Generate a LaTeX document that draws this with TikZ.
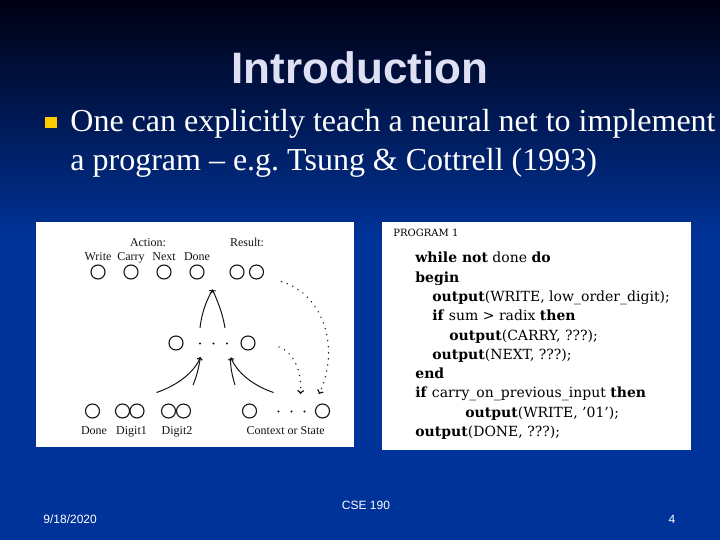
\documentclass[tikz,border=0pt]{standalone}
\usepackage{fontspec}
\setmainfont{Liberation Serif}
\setsansfont{Liberation Sans}
\newfontfamily\progfont{DejaVu Serif}
\usetikzlibrary{positioning}
\frenchspacing

\definecolor{slideblue}{RGB}{0,51,153}
\definecolor{slidetop}{RGB}{0,0,18}
\definecolor{titlecol}{RGB}{224,224,244}
\definecolor{bulletcol}{RGB}{255,204,0}
\definecolor{ink}{RGB}{20,20,20}

\begin{document}
\begin{tikzpicture}[x=1pt,y=-1pt,node distance=33pt,thick]
\tikzstyle{nd}=[circle,draw=ink,line width=1.1pt,inner sep=0pt,minimum size=14pt]
\tikzstyle{lbl}=[font=\fontsize{12}{13}\selectfont,text=ink,inner sep=1pt,text depth=0pt]
\tikzstyle{arr}=[->,line width=1pt,draw=ink]
\tikzstyle{dots}=[->,line width=1.5pt,draw=ink,dash pattern=on 0.1pt off 6pt,line cap=round]
\tikzstyle{code}=[anchor=base west,inner sep=0pt,text=black,font=\progfont\fontsize{14}{16}\selectfont]
\tikzstyle{foot}=[inner sep=0pt,text=white,font=\sffamily\fontsize{12}{14}\selectfont]
\useasboundingbox (0,0) rectangle (720,540);
% slide background
\fill[slideblue] (0,0) rectangle (720,540);
\shade[top color=slidetop,bottom color=slideblue] (0,0) rectangle (720,240);
\node[anchor=base,inner sep=0pt,text=titlecol,font=\sffamily\bfseries\fontsize{44}{48}\selectfont] (title) at (360,84) {Introduction};
\node[fill=bulletcol,inner sep=0pt,minimum width=12pt,minimum height=11pt] (bul) at (51,122.5) {};
\node[anchor=base west,inner sep=0pt,text=white,font=\fontsize{32}{36}\selectfont] (l1) at (70,132) {One can explicitly teach a neural net to implement};
\node[anchor=base west,inner sep=0pt,text=white,font=\fontsize{32}{36}\selectfont] (l2) at (70,171) {a program -- e.g. Tsung \& Cottrell (1993)};
% the two panels
\node[fill=white,inner sep=0pt,minimum width=318pt,minimum height=225pt] (netbox) at (195,334.5) {};
\node[fill=white,inner sep=0pt,minimum width=309pt,minimum height=228pt] (progbox) at (536.5,336) {};
% network
\node[nd, label={[lbl,label distance=3pt]above:Write}] (W) at (98,272) {};
\node[nd, label={[lbl,label distance=3pt]above:Carry}] (C) [right of=W] {};
\node[nd, label={[lbl,label distance=3pt]above:Next}]  (N) [right of=C] {};
\node[nd, label={[lbl,label distance=3pt]above:Done}]  (D) [right of=N] {};
\node[nd] (R1) at (237,272) {};
\node[nd] (R2) at (256.5,272) {};
\node[lbl,anchor=base] (act) at (148,247) {Action:};
\node[lbl,anchor=base] (res) at (247,247) {Result:};
\node[nd] (H1) at (176,343) {};
\node[nd] (H2) at (248,343) {};
\node[nd] (I0) at (92.5,411) {};
\node[nd] (A1) at (122.5,411) {};
\node[nd] (A2) at (137,411) {};
\node[nd] (B1) at (168.5,411) {};
\node[nd] (B2) at (183.5,411) {};
\node[nd] (S1) at (249.5,411) {};
\node[nd] (S2) at (322.5,411) {};
\node[lbl,anchor=base] (lD)  at (94,434) {Done};
\node[lbl,anchor=base] (lA)  at (131.5,434) {Digit1};
\node[lbl,anchor=base] (lB)  at (177,434) {Digit2};
\node[lbl,anchor=base] (lS)  at (285.7,434) {Context or State};
\foreach \x in {200,213.5,227} \fill[ink] (\x,343.5) circle (1.1pt);
\foreach \x in {278.5,291.5,304.5} \fill[ink] (\x,411.5) circle (1.1pt);
% arrow tips and tails
\coordinate (T1) at (212.5,289.5);
\coordinate (T1a) at (200,328);
\coordinate (T1b) at (225,328);
\coordinate (T2) at (200.5,357);
\coordinate (T2a) at (156.5,392.5);
\coordinate (T2b) at (193,385);
\coordinate (T3) at (231,357.5);
\coordinate (T3a) at (235,385);
\coordinate (T3b) at (273.5,392.5);
\coordinate (P1) at (281.5,281.5);
\coordinate (P1e) at (319,394);
\coordinate (P2) at (279,347);
\coordinate (P2e) at (300.5,394);
\draw[arr] (T1a) .. controls (202,310) and (208,298) .. (T1);
\draw[arr] (T1b) .. controls (222,310) and (216,298) .. (T1);
\draw[arr] (T2a) .. controls (176,386) and (194,373) .. (T2);
\draw[arr] (T2b) .. controls (197,376) and (199,366) .. (T2);
\draw[arr] (T3a) .. controls (232,375) and (230,366) .. (T3);
\draw[arr] (T3b) .. controls (254,386) and (237,373) .. (T3);
\draw[dots] (P1) .. controls (325,295) and (340,350) .. (P1e);
\draw[dots] (P2) .. controls (293,352) and (302,370) .. (P2e);
% program
\node[code,font=\progfont\fontsize{10}{12}\selectfont] (pt) at (393,236.5) {PROGRAM 1};
\node[code] (c1)  at (415,262.5) {\textbf{while not} done \textbf{do}};
\node[code] (c2)  at (415,282)   {\textbf{begin}};
\node[code] (c3)  at (432,301.3) {\textbf{output}(WRITE, low\_order\_digit);};
\node[code] (c4)  at (432,320.6) {\textbf{if} sum > radix \textbf{then}};
\node[code] (c5)  at (449,340)   {\textbf{output}(CARRY, ???);};
\node[code] (c6)  at (432,359.2) {\textbf{output}(NEXT, ???);};
\node[code] (c7)  at (415,378.5) {\textbf{end}};
\node[code] (c8)  at (415,397.8) {\textbf{if} carry\_on\_previous\_input \textbf{then}};
\node[code] (c9)  at (465,417)   {\textbf{output}(WRITE, ’01’);};
\node[code] (c10) at (415,436.4) {\textbf{output}(DONE, ???);};
% footer
\node[foot,anchor=base west] (date) at (43,523) {9/18/2020};
\node[foot,anchor=base] (course) at (366,509) {CSE 190};
\node[foot,anchor=base] (page) at (672,523) {4};
\end{tikzpicture}
\end{document}
